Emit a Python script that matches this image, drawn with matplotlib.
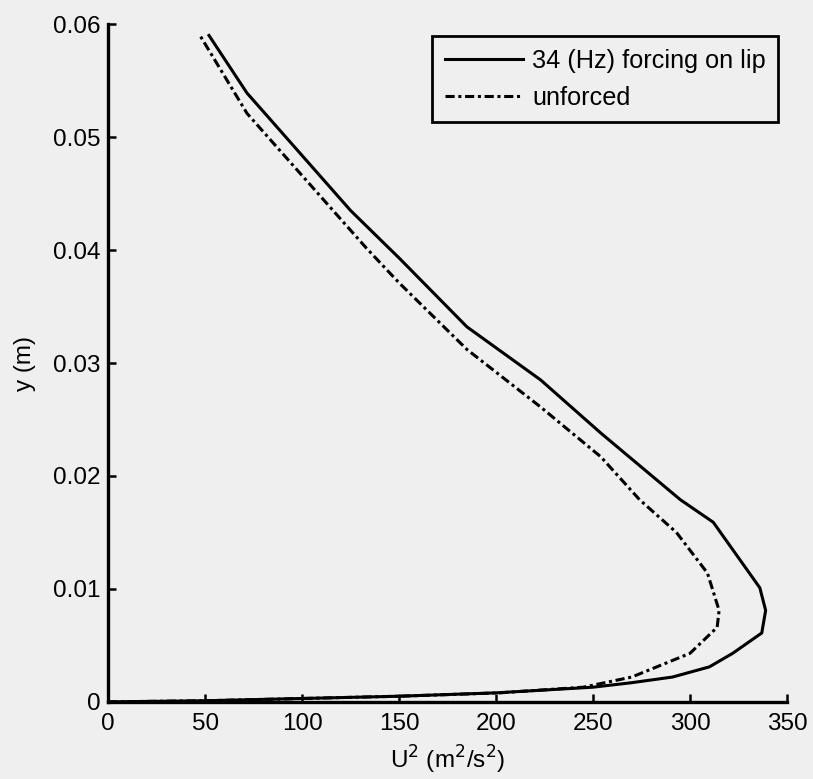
import matplotlib
matplotlib.use("Agg")
import matplotlib.pyplot as plt

plt.rcParams['font.family'] = ['Liberation Sans', 'DejaVu Sans']

# Mean-velocity-squared profiles across the wall jet: U^2 (m^2/s^2) against height y (m)
forced_u2 = [0, 50, 100, 150, 200, 250, 270, 291, 310, 322, 337, 339, 336,
             312, 295, 254, 223, 185, 150, 125, 71.6, 52]
forced_y = [0, 0.0001, 0.0003, 0.0005, 0.0008, 0.0013, 0.0017, 0.0022, 0.0031,
            0.0043, 0.0061, 0.0081, 0.0101, 0.0159, 0.0179, 0.0238, 0.0285,
            0.0332, 0.0393, 0.0435, 0.0539, 0.0590]

unforced_u2 = [0, 50, 100, 150, 202, 245, 270, 300, 314, 315, 309, 293, 274,
               254, 223, 185, 150, 133, 71.6, 47]
unforced_y = [0, 0.0001, 0.0003, 0.0005, 0.0008, 0.0013, 0.0022, 0.0043, 0.0066,
              0.0081, 0.0114, 0.0150, 0.0179, 0.0217, 0.0261, 0.0312, 0.0371,
              0.0402, 0.0521, 0.0591]

series_labels = ['34 (Hz) forcing on lip', 'unforced']
x_ticks = [0, 50, 100, 150, 200, 250, 300, 350]
y_ticks = [0, 0.01, 0.02, 0.03, 0.04, 0.05, 0.06]
y_tick_labels = ['0', '0.01', '0.02', '0.03', '0.04', '0.05', '0.06']

bg = '#efefef'
fig = plt.figure(figsize=(8.13, 7.79), dpi=100, facecolor=bg)
ax = fig.add_axes([0.133, 0.099, 0.835, 0.870])
ax.set_facecolor('none')

ax.plot(forced_u2, forced_y, color='black', lw=2.2, label=series_labels[0],
        solid_joinstyle='round')
ax.plot(unforced_u2, unforced_y, color='black', lw=2.2, label=series_labels[1],
        dashes=(3.0, 1.2, 1.0, 1.2))

ax.set_xlim(0, 350)
ax.set_ylim(0, 0.06)
ax.set_xticks(x_ticks)
ax.set_xticklabels([str(t) for t in x_ticks])
ax.set_yticks(y_ticks)
ax.set_yticklabels(y_tick_labels)

for side in ('top', 'right'):
    ax.spines[side].set_visible(False)
for side in ('left', 'bottom'):
    ax.spines[side].set_linewidth(2.4)
    ax.spines[side].set_color('black')

ax.tick_params(direction='in', length=6, width=1.8, labelsize=17.5,
               colors='black')
ax.tick_params(axis='x', pad=8)
ax.tick_params(axis='y', pad=5.5)

ax.set_xlabel(r'U$^2$ (m$^2$/s$^2$)', fontsize=17.5, labelpad=6)
ax.set_ylabel('y (m)', fontsize=17.5, labelpad=12)

leg = ax.legend(loc='upper right', bbox_to_anchor=(0.987, 0.982),
                borderaxespad=0, fontsize=18.2, handlelength=3.1,
                handletextpad=0.35, labelspacing=0.5, borderpad=0.5,
                fancybox=False, framealpha=1, edgecolor='black',
                facecolor=bg)
leg.get_frame().set_linewidth(2.0)

fig.savefig('out.png', dpi=100, facecolor=bg)
